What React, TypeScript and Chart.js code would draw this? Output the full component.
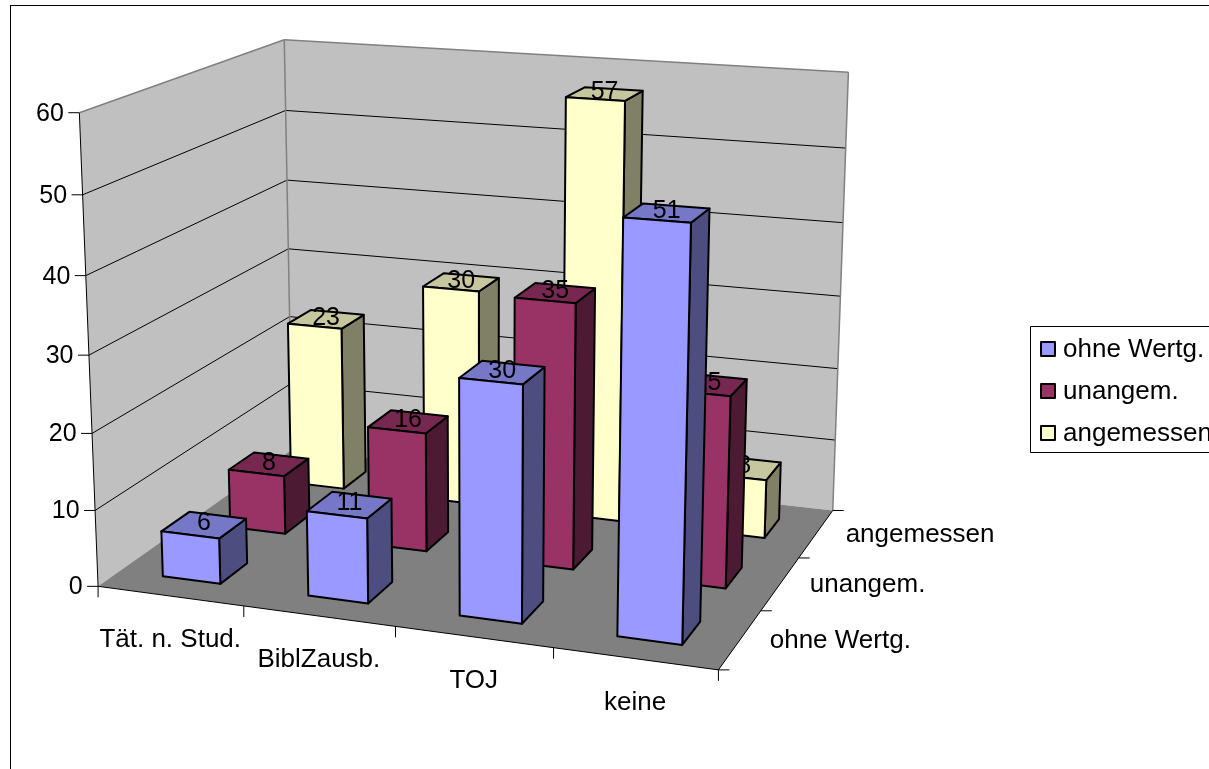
import React, { useEffect, useRef } from "react";
import { Chart, registerables } from "chart.js";

Chart.register(...registerables);

const categories = ["Tät. n. Stud.", "BiblZausb.", "TOJ", "keine"];
const depthLabels = ["ohne Wertg.", "unangem.", "angemessen"];
const ohneWertg = [6, 11, 30, 51];
const unangem = [8, 16, 35, 25];
const angemessen = [23, 30, 57, 8];
const seriesColors = ["#9999FF", "#993366", "#FFFFCC"];

const FONT = '26px "Liberation Sans", Arial, sans-serif';
const NUM_FONT = '25px "Liberation Sans", Arial, sans-serif';
const GAP = 1.5;

// Where known points of the plot box (u across, v deep, h up) sit on the page.
const boxCorners: number[][] = [
  [0, 0, 0, 98.5, 586],
  [1, 0, 0, 719, 670],
  [1, 1, 0, 832.7, 510],
  [0, 1, 0, 291.5, 450],
  [0, 0, 1, 79, 112],
  [0, 1, 1, 285, 40],
  [1, 1, 1, 848.5, 72],
  [0.825, 0.1, 0.85, 622.7, 219],
  [0.925, 0.1, 0.85, 690.7, 222.3],
];

function solveCamera(pts: number[][]) {
  const rows: number[][] = [];
  const rhs: number[] = [];
  for (const [u, v, h, x, y] of pts) {
    rows.push([u, v, h, 1, 0, 0, 0, 0, -x * u, -x * v, -x * h]);
    rhs.push(x);
    rows.push([0, 0, 0, 0, u, v, h, 1, -y * u, -y * v, -y * h]);
    rhs.push(y);
  }
  const n = 11;
  const A: number[][] = [];
  for (let i = 0; i < n; i++) {
    const r = new Array(n + 1).fill(0);
    for (let j = 0; j < n; j++) rows.forEach((row) => (r[j] += row[i] * row[j]));
    rows.forEach((row, k) => (r[n] += row[i] * rhs[k]));
    A.push(r);
  }
  for (let i = 0; i < n; i++) {
    let best = i;
    for (let k = i + 1; k < n; k++) if (Math.abs(A[k][i]) > Math.abs(A[best][i])) best = k;
    [A[i], A[best]] = [A[best], A[i]];
    for (let k = 0; k < n; k++) {
      if (k === i) continue;
      const f = A[k][i] / A[i][i];
      for (let j = i; j <= n; j++) A[k][j] -= f * A[i][j];
    }
  }
  const m = A.map((r, i) => r[n] / r[i]);
  return (u: number, v: number, h: number): [number, number] => {
    const w = m[8] * u + m[9] * v + m[10] * h + 1;
    return [
      (m[0] * u + m[1] * v + m[2] * h + m[3]) / w,
      (m[4] * u + m[5] * v + m[6] * h + m[7]) / w,
    ];
  };
}

const project = solveCamera(boxCorners);

function shade(hex: string, f: number) {
  const n = parseInt(hex.slice(1), 16);
  const c = [(n >> 16) & 255, (n >> 8) & 255, n & 255].map((x) => Math.round(x * f));
  return `rgb(${c[0]},${c[1]},${c[2]})`;
}

function poly(ctx: CanvasRenderingContext2D, pts: [number, number][], fill?: string, stroke?: string, lw = 1) {
  ctx.beginPath();
  pts.forEach((p, i) => (i ? ctx.lineTo(p[0], p[1]) : ctx.moveTo(p[0], p[1])));
  ctx.closePath();
  if (fill) {
    ctx.fillStyle = fill;
    ctx.fill();
  }
  if (stroke) {
    ctx.strokeStyle = stroke;
    ctx.lineWidth = lw;
    ctx.lineJoin = "round";
    ctx.stroke();
  }
}

function line(ctx: CanvasRenderingContext2D, a: [number, number], b: [number, number], color = "#000", lw = 1) {
  ctx.beginPath();
  ctx.moveTo(a[0], a[1]);
  ctx.lineTo(b[0], b[1]);
  ctx.strokeStyle = color;
  ctx.lineWidth = lw;
  ctx.stroke();
}

const scene3d = {
  id: "scene3d",
  beforeDatasetsDraw(chart: any) {
    const ctx: CanvasRenderingContext2D = chart.ctx;
    const { x, y, z } = chart.scales;
    const uOf = (i: number) => (x.getPixelForValue(i) - x.left) / x.width;
    const vOf = (j: number) => (z.getPixelForValue(j) - z.top) / z.height;
    const hOf = (val: number) => (y.bottom - y.getPixelForValue(val)) / y.height;
    const nCat = x.getLabels().length;
    const nDepth = z.getLabels().length;
    const halfU = 0.5 / nCat / (1 + GAP);
    const halfV = 0.5 / nDepth / (1 + GAP);

    ctx.save();
    // outer frame
    ctx.fillStyle = "#fff";
    ctx.fillRect(0, 0, chart.width, chart.height);
    ctx.strokeStyle = "#000";
    ctx.lineWidth = 1;
    ctx.strokeRect(10.5, 5.5, 1400, 1000);

    // walls and floor
    poly(ctx, [project(0, 0, 0), project(0, 1, 0), project(0, 1, 1), project(0, 0, 1)], "#C0C0C0");
    poly(ctx, [project(0, 1, 0), project(1, 1, 0), project(1, 1, 1), project(0, 1, 1)], "#C0C0C0");
    poly(ctx, [project(0, 0, 0), project(1, 0, 0), project(1, 1, 0), project(0, 1, 0)], "#808080");

    ctx.font = NUM_FONT;
    ctx.fillStyle = "#000";

    // value gridlines, ticks and labels
    ctx.textAlign = "right";
    ctx.textBaseline = "middle";
    for (const t of y.ticks) {
      const h = hOf(t.value);
      const a = project(0, 0, h);
      if (t.value > 0 && t.value < 60) {
        line(ctx, a, project(0, 1, h));
        line(ctx, project(0, 1, h), project(1, 1, h));
      }
      line(ctx, [a[0] - 11, a[1]], a);
      ctx.fillStyle = "#000";
      ctx.fillText(String(t.value), a[0] - 15.5, a[1] + 1);
    }

    // wall edges
    line(ctx, project(0, 0, 1), project(0, 1, 1), "#808080", 1.5);
    line(ctx, project(0, 1, 1), project(1, 1, 1), "#808080", 1.5);
    line(ctx, project(0, 1, 0), project(0, 1, 1), "#808080", 1.5);
    line(ctx, project(1, 1, 0), project(1, 1, 1), "#808080", 1.5);

    // axes
    line(ctx, project(0, 0, 0), project(0, 0, 1));
    line(ctx, project(0, 0, 0), project(1, 0, 0));
    line(ctx, project(1, 0, 0), project(1, 1, 0));

    // category ticks and labels
    ctx.font = FONT;
    ctx.textAlign = "center";
    for (let i = 0; i <= nCat; i++) {
      const a = project(i / nCat, 0, 0);
      line(ctx, a, [a[0], a[1] + 11]);
    }
    x.getLabels().forEach((label: string, i: number) => {
      const a = project(uOf(i), 0, 0);
      ctx.fillStyle = "#000";
      ctx.fillText(label, a[0], a[1] + 44);
    });

    // depth ticks and labels
    ctx.textAlign = "left";
    for (let j = 0; j <= nDepth; j++) {
      const a = project(1, j / nDepth, 0);
      line(ctx, a, [a[0] + 11, a[1]]);
    }
    z.getLabels().forEach((label: string, j: number) => {
      const a = project(1, vOf(j), 0);
      ctx.fillStyle = "#000";
      ctx.fillText(label, a[0] + 29.5, a[1] + 1);
    });

    // bars: back row first, each with its label, so nearer bars cover farther ones
    ctx.font = NUM_FONT;
    for (let j = nDepth - 1; j >= 0; j--) {
      const ds = chart.data.datasets[j];
      const color = ds.backgroundColor as string;
      ds.data.forEach((val: number, i: number) => {
        const u0 = uOf(i) - halfU;
        const u1 = uOf(i) + halfU;
        const v0 = vOf(j) - halfV;
        const v1 = vOf(j) + halfV;
        const h = hOf(val);
        poly(ctx, [project(u1, v0, 0), project(u1, v1, 0), project(u1, v1, h), project(u1, v0, h)], shade(color, 0.5), "#000", 2);
        poly(ctx, [project(u0, v0, h), project(u1, v0, h), project(u1, v1, h), project(u0, v1, h)], shade(color, 0.78), "#000", 2);
        poly(ctx, [project(u0, v0, 0), project(u1, v0, 0), project(u1, v0, h), project(u0, v0, h)], color, "#000", 2);
        const c = project(uOf(i), vOf(j), h);
        ctx.fillStyle = "#000";
        ctx.textAlign = "center";
        ctx.fillText(String(val), c[0], c[1] - 1.5);
      });
    }

    // legend
    ctx.font = FONT;
    ctx.strokeStyle = "#000";
    ctx.lineWidth = 1;
    ctx.strokeRect(1030.5, 326.5, 400, 126);
    ctx.textAlign = "left";
    chart.data.datasets.forEach((ds: any, k: number) => {
      const top = 342 + k * 42;
      ctx.fillStyle = ds.backgroundColor;
      ctx.fillRect(1041, top, 14, 14);
      ctx.strokeStyle = "#000";
      ctx.lineWidth = 2;
      ctx.strokeRect(1041, top, 14, 14);
      ctx.fillStyle = "#000";
      ctx.fillText(ds.label, 1063, top + 8);
    });
    ctx.restore();
    return false;
  },
};

export default function App() {
  const ref = useRef<HTMLCanvasElement>(null);
  useEffect(() => {
    const chart = new Chart(ref.current as HTMLCanvasElement, {
      type: "bar",
      data: {
        labels: categories,
        datasets: [
          { label: depthLabels[0], data: ohneWertg, backgroundColor: seriesColors[0] },
          { label: depthLabels[1], data: unangem, backgroundColor: seriesColors[1] },
          { label: depthLabels[2], data: angemessen, backgroundColor: seriesColors[2] },
        ],
      },
      options: {
        responsive: false,
        animation: false,
        layout: { padding: 0 },
        plugins: { legend: { display: false }, tooltip: { enabled: false } },
        scales: {
          x: { type: "category", display: false, offset: true },
          y: { type: "linear", display: false, min: 0, max: 60, ticks: { stepSize: 10 } },
          z: { type: "category", axis: "y", display: false, labels: depthLabels, offset: true },
        },
      } as any,
      plugins: [scene3d as any],
    });
    return () => chart.destroy();
  }, []);
  return (
    <canvas
      ref={ref}
      width={1209}
      height={769}
      style={{ position: "fixed", left: 0, top: 0, display: "block" }}
    />
  );
}
